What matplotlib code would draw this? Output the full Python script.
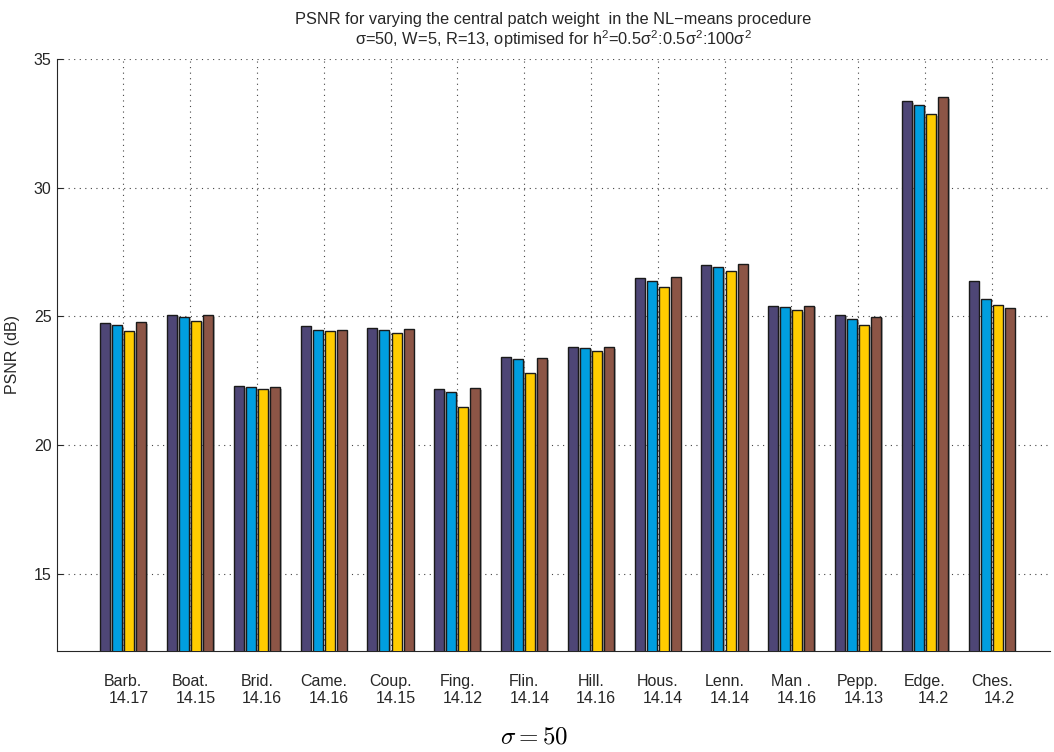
import numpy as np
import matplotlib
matplotlib.use("Agg")
import matplotlib.pyplot as plt
import matplotlib.patheffects as pe

plt.rcParams['font.family'] = ['Liberation Sans', 'DejaVu Sans']
plt.rcParams['mathtext.fontset'] = 'custom'
plt.rcParams['mathtext.rm'] = 'Liberation Sans'
plt.rcParams['mathtext.it'] = 'Liberation Sans:italic'

# images and the h value found for each
images = ["Barb.", "Boat.", "Brid.", "Came.", "Coup.", "Fing.", "Flin.",
          "Hill.", "Hous.", "Lenn.", "Man .", "Pepp.", "Edge.", "Ches."]
h_vals = ["14.17", "14.15", "14.16", "14.16", "14.15", "14.12", "14.14",
          "14.16", "14.14", "14.14", "14.16", "14.13", "14.2", "14.2"]

# PSNR for the four central weight settings
psnr_1 = [24.75, 25.07, 22.30, 24.64, 24.53, 22.17, 23.42, 23.82, 26.49, 27.00, 25.42, 25.05, 33.35, 26.36]
psnr_2 = [24.66, 24.97, 22.26, 24.49, 24.47, 22.08, 23.33, 23.78, 26.37, 26.91, 25.35, 24.91, 33.20, 25.67]
psnr_3 = [24.42, 24.84, 22.16, 24.42, 24.34, 21.47, 22.81, 23.65, 26.14, 26.78, 25.25, 24.65, 32.85, 25.45]
psnr_4 = [24.77, 25.05, 22.25, 24.48, 24.52, 22.20, 23.38, 23.81, 26.52, 27.02, 25.42, 24.99, 33.53, 25.34]

colors = ['#4e4676', '#009edf', '#ffcc00', '#8c5546']

W, H = 1054, 752
fig = plt.figure(figsize=(W / 100, H / 100), dpi=100)
ax = fig.add_axes([56.5 / W, 1 - 651 / H, (1050 - 56.5) / W, (651 - 59) / H])

x = np.arange(1, len(images) + 1)
step = 0.18
shadow = [pe.SimplePatchShadow(offset=(1.2, -1.2), shadow_rgbFace='0.5', alpha=0.6), pe.Normal()]
for i, (vals, c) in enumerate(zip([psnr_1, psnr_2, psnr_3, psnr_4], colors)):
    bars = ax.bar(x + (i - 1.5) * step, vals, width=0.15, color=c,
                  edgecolor='#1a1a1a', linewidth=1.0, zorder=3)
    for b in bars:
        b.set_path_effects(shadow)

ax.set_xlim(0, (1050 - 56.5) / 66.8)
ax.set_ylim(12, 35)
ax.set_yticks([15, 20, 25, 30, 35])
ax.set_xticks(x)
ax.set_xticklabels(images)
ax.tick_params(axis='x', length=0, pad=16.5, labelsize=11.5, colors='#262626')
ax.tick_params(axis='y', direction='in', length=4, labelsize=11.5, colors='#262626')
ax.grid(True, linestyle=(0, (1, 4)), color='#444444', linewidth=0.8, zorder=0)
ax.set_axisbelow(True)
for s in ['top', 'right']:
    ax.spines[s].set_visible(False)
for s in ['left', 'bottom']:
    ax.spines[s].set_color('#262626')

# second line under each name: the h value
for xi, v in zip(x, h_vals):
    off = 0.08 if len(v) > 4 else 0.12
    ax.text(xi + off, -0.0794, v, transform=ax.get_xaxis_transform(),
            ha='center', va='center', fontsize=11.5, color='#262626')

ax.set_ylabel("PSNR (dB)", fontsize=11.5, color='#262626', labelpad=10)
ax.set_title("PSNR for varying the central patch weight  in the NL\u2212means procedure\n"
             r"$\mathrm{\sigma}$=50, W=5, R=13, optimised for h$^2$=0.5$\mathrm{\sigma}^2$:0.5$\mathrm{\sigma}^2$:100$\mathrm{\sigma}^2$",
             fontsize=11.8, color='#262626', pad=10, linespacing=1.1)

fig.text(534 / W, 1 - 737 / H, r"$\sigma = 50$", fontsize=18, ha='center', va='center',
         math_fontfamily='cm')

fig.savefig("out.png", dpi=100)
